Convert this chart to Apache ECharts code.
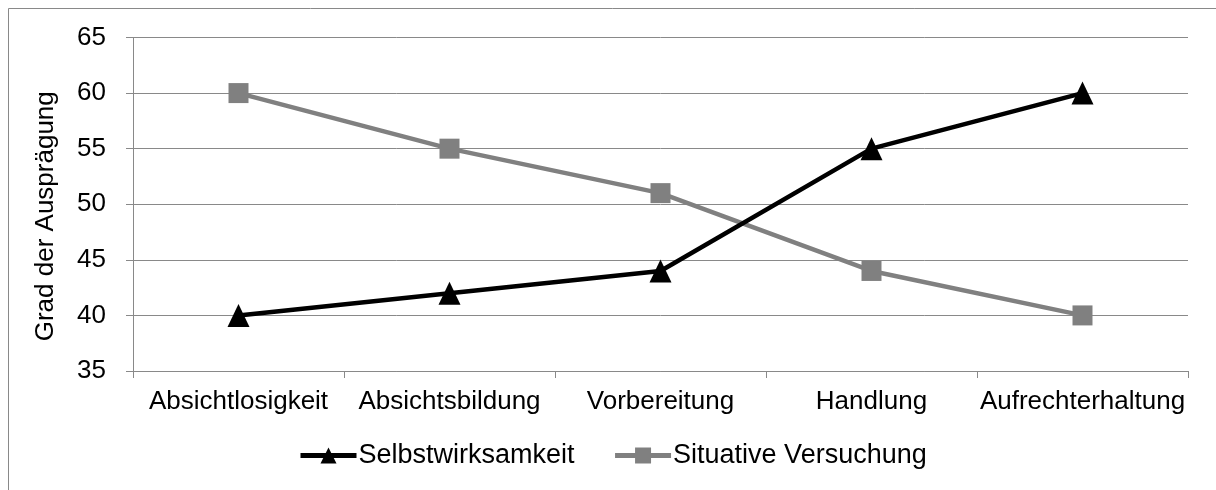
<!DOCTYPE html>
<html><head><meta charset="utf-8">
<script src="https://cdn.jsdelivr.net/npm/echarts@6/dist/echarts.min.js"></script>
<style>html,body{margin:0;padding:0;background:#fff}#c{width:1216px;height:490px}</style>
</head><body><div id="c"></div>
<script>
const categories = ['Absichtlosigkeit','Absichtsbildung','Vorbereitung','Handlung','Aufrechterhaltung'];
const selbstwirksamkeit = [40, 42, 44, 55, 60];
const situativeVersuchung = [60, 55, 51, 44, 40];
const seriesNames = ['Selbstwirksamkeit','Situative Versuchung'];
const yAxisName = 'Grad der Ausprägung';

const FONT = '"Liberation Sans", Arial, sans-serif';
const chart = echarts.init(document.getElementById('c'), null, {renderer:'canvas'});
chart.setOption({
  animation:false,
  backgroundColor:'#fff',
  graphic:[{type:'rect', shape:{x:8.5,y:8.5,width:1300,height:600}, style:{fill:'none', stroke:'#898989', lineWidth:1}, silent:true, z:-1}],
  grid:{left:133, right:28, top:37.5, bottom:119},
  legend:{
    left:293, top:437, itemWidth:56, itemHeight:20, itemGap:38,
    lineStyle:{width:5},
    textStyle:{fontFamily:FONT, fontSize:27, color:'#000', padding:[0,0,0,-3]},
    data:seriesNames
  },
  xAxis:{
    type:'category', data:categories, boundaryGap:true,
    axisLine:{lineStyle:{color:'#898989', width:1}},
    axisTick:{show:true, length:7, alignWithLabel:false, lineStyle:{color:'#898989'}},
    axisLabel:{fontFamily:FONT, fontSize:26, color:'#000', margin:18, interval:0}
  },
  yAxis:{
    type:'value', min:35, max:65, interval:5,
    name:yAxisName, nameLocation:'middle', nameGap:74,
    nameTextStyle:{fontFamily:FONT, fontSize:26, color:'#000', padding:[0,24,0,0]},
    axisLine:{show:true, lineStyle:{color:'#898989', width:1}},
    axisTick:{show:true, length:7, lineStyle:{color:'#898989'}},
    axisLabel:{fontFamily:FONT, fontSize:26, color:'#000', margin:27},
    splitLine:{lineStyle:{color:'#898989', width:1}}
  },
  series:[
    {name:seriesNames[0], type:'line', data:selbstwirksamkeit, symbol:'triangle', symbolSize:[22,23],
     lineStyle:{color:'#000', width:4.5}, itemStyle:{color:'#000'}, z:3},
    {name:seriesNames[1], type:'line', data:situativeVersuchung, symbol:'rect', symbolSize:20,
     lineStyle:{color:'#808080', width:4.5}, itemStyle:{color:'#808080'}, z:2}
  ]
});
</script></body></html>
